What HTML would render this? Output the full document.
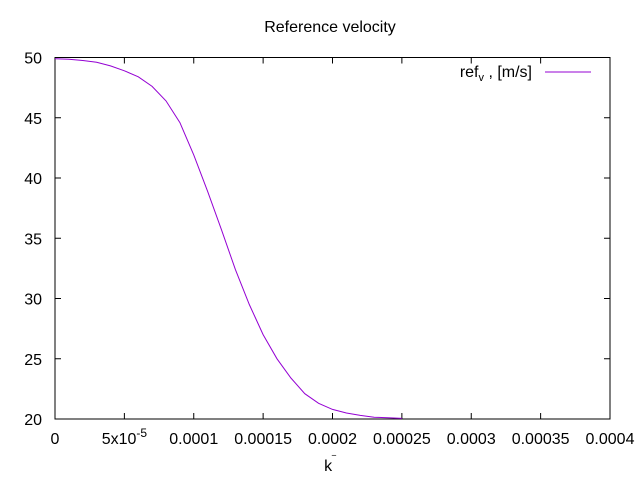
<!DOCTYPE html>
<html><head><meta charset="utf-8"><style>
body{margin:0;background:#fff}
svg{display:block;font-family:"Liberation Sans",sans-serif}
</style></head><body>
<svg id="chart" width="640" height="480" viewBox="0 0 640 480" xmlns="http://www.w3.org/2000/svg">
<rect width="640" height="480" fill="#fff"/>
<text x="330" y="32" font-size="16" text-anchor="middle">Reference velocity</text>
<g id="axes"></g>
<rect x="55" y="57.5" width="555" height="361.5" fill="none" stroke="#000" stroke-width="1"/>
<text x="330" y="471" font-size="16" text-anchor="middle">k<tspan dy="-7" font-size="11">‾</tspan></text>
<g>
<text x="532" y="77" font-size="16" text-anchor="end">ref<tspan dy="4" font-size="11">v</tspan><tspan dy="-4"> , [m/s]</tspan></text>
<line x1="545" y1="72" x2="591" y2="72" stroke="#9400d3" stroke-width="1"/>
</g>
<polyline id="series" fill="none" stroke="#9400d3" stroke-width="1"/>
</svg>
<script>
const xValues=[0,0.00001,0.00002,0.00003,0.00004,0.00005,0.00006,0.00007,0.00008,0.00009,0.0001,0.00011,0.00012,0.00013,0.00014,0.00015,0.00016,0.00017,0.00018,0.00019,0.0002,0.00021,0.00022,0.00023,0.00024,0.00025];
const yValues=[49.9,49.85,49.75,49.6,49.3,48.9,48.4,47.6,46.4,44.6,41.9,38.9,35.7,32.4,29.5,27.0,25.0,23.4,22.1,21.3,20.8,20.5,20.3,20.15,20.1,20.05];
const xTicks=[0,0.00005,0.0001,0.00015,0.0002,0.00025,0.0003,0.00035,0.0004];
const xTickLabels=["0","5x10^-5","0.0001","0.00015","0.0002","0.00025","0.0003","0.00035","0.0004"];
const yTicks=[20,25,30,35,40,45,50];
const X0=55,X1=610,Y0=419,Y1=57.5;
function sx(v){return X0+(v-0)/(0.0004)*(X1-X0);}
function sy(v){return Y0-(v-20)/30*(Y0-Y1);}
const NS="http://www.w3.org/2000/svg";
const axes=document.getElementById('axes');
function mk(tag,attrs){const e=document.createElementNS(NS,tag);for(const k in attrs)e.setAttribute(k,attrs[k]);return e;}
xTicks.forEach((t,i)=>{
  const x=sx(t);
  const a=mk('line',{x1:x,y1:Y0,x2:x,y2:Y0-6,stroke:'#000'});
  
  
  axes.appendChild(a);
  const b=mk('line',{x1:x,y1:Y1,x2:x,y2:Y1+6,stroke:'#000'});
  
  
  axes.appendChild(b);
  const tx=mk('text',{x:x,y:444,'font-size':16,'text-anchor':'middle'});
  
  
  const lab=xTickLabels[i];
  if(lab.includes('^')){const p=lab.split('^');tx.textContent=p[0];const s=mk('tspan',{dy:-7,'font-size':12});s.textContent=p[1];tx.appendChild(s);}
  else tx.textContent=lab;
  axes.appendChild(tx);
});
yTicks.forEach(t=>{
  const y=sy(t);
  const a=mk('line',{x1:X0,y1:y,x2:X0+6,y2:y,stroke:'#000'});
  
  
  axes.appendChild(a);
  const b=mk('line',{x1:X1,y1:y,x2:X1-6,y2:y,stroke:'#000'});
  
  
  axes.appendChild(b);
  const tx=mk('text',{x:42,y:y+6,'font-size':16,'text-anchor':'end'});
  
  
  tx.textContent=t;
  axes.appendChild(tx);
});
document.getElementById('series').setAttribute('points',xValues.map((v,i)=>sx(v).toFixed(1)+','+sy(yValues[i]).toFixed(1)).join(' '));
</script>
</body></html>
